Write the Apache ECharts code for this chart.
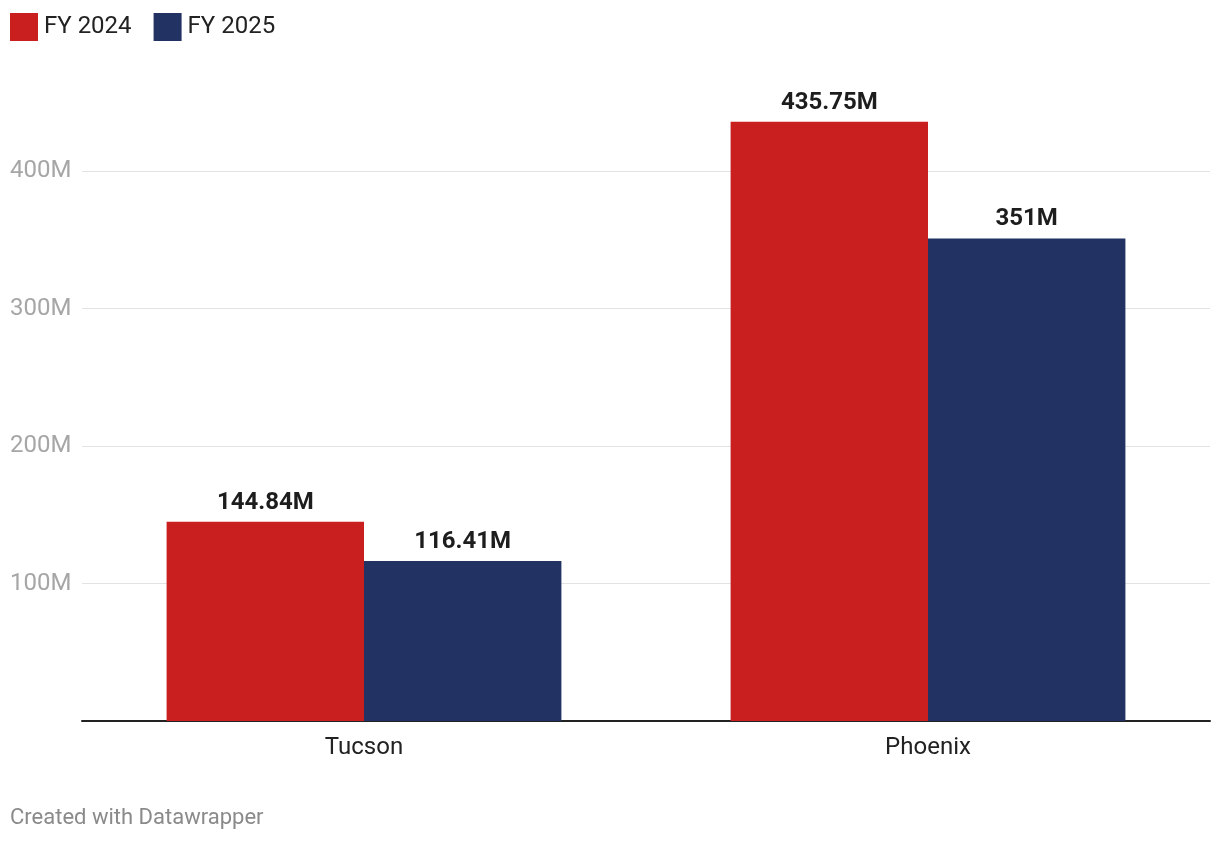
<!DOCTYPE html>
<html>
<head>
<meta charset="utf-8">
<script src="https://cdn.jsdelivr.net/npm/echarts@6/dist/echarts.min.js"></script>
<style>
html,body{margin:0;padding:0;background:#fff;}
#chart{width:1220px;height:844px;}
</style>
</head>
<body>
<div id="chart"></div>
<script>
const categories = ['Tucson', 'Phoenix'];
const seriesNames = ['FY 2024', 'FY 2025'];
const fy2024 = [144.84, 435.75];
const fy2025 = [116.41, 351];
const yTicks = [0, 100, 200, 300, 400];

const chart = echarts.init(document.getElementById('chart'));
const font = 'Roboto, "Open Sans", sans-serif';
function lbl(v){ return (Math.round(v*100)/100) + 'M'; }
chart.setOption({
  animation: false,
  textStyle: { fontFamily: font },
  legend: {
    left: 10, top: 13, padding: 0, itemWidth: 28, itemHeight: 28, itemGap: 22,
    icon: 'rect',
    textStyle: { fontSize: 24, color: '#222', fontFamily: font, padding: [0,0,0,1] },
    data: seriesNames
  },
  grid: { left: 82, right: 10, top: 171, bottom: 123 },
  xAxis: {
    type: 'category', data: categories,
    axisLine: { lineStyle: { color: '#222', width: 2 } },
    axisTick: { show: false },
    axisLabel: { fontSize: 24, color: '#222', margin: 15, fontFamily: font }
  },
  yAxis: {
    type: 'value', min: yTicks[0], max: yTicks[yTicks.length-1], interval: 100,
    axisLine: { show: false }, axisTick: { show: false },
    splitLine: { lineStyle: { color: '#e3e3e3', width: 1 } },
    axisLabel: {
      fontSize: 24, color: '#a6a6a6', align: 'left', margin: 72, fontFamily: font,
      padding: [4,0,0,0],
      formatter: v => v === 0 ? '' : v + 'M'
    }
  },
  series: [
    { name: seriesNames[0], type: 'bar', data: fy2024, clip: false,
      itemStyle: { color: '#c91f1f' }, barGap: '0%', barCategoryGap: '30%',
      label: { show: true, position: 'top', distance: 7, fontSize: 24, fontWeight: 'bold', color: '#1d1d1d', fontFamily: font, formatter: p => lbl(p.value) } },
    { name: seriesNames[1], type: 'bar', data: fy2025, clip: false,
      itemStyle: { color: '#213263' }, barGap: '0%', barCategoryGap: '30%',
      label: { show: true, position: 'top', distance: 7, fontSize: 24, fontWeight: 'bold', color: '#1d1d1d', fontFamily: font, formatter: p => lbl(p.value) } }
  ],
  graphic: [{
    type: 'text', left: 10, top: 807,
    style: { text: 'Created with Datawrapper', fontSize: 22, fill: '#8a8a8a', fontFamily: font }
  }]
});
</script>
</body>
</html>
